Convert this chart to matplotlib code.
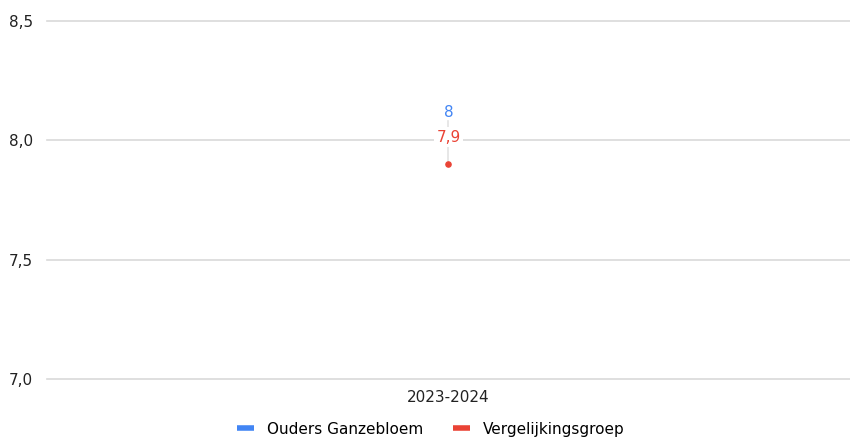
import matplotlib
matplotlib.use("Agg")
import matplotlib.pyplot as plt
from matplotlib.lines import Line2D

categories = ["2023-2024"]
series_names = ["Ouders Ganzebloem", "Vergelijkingsgroep"]
ouders = [8.0]
vergelijking = [7.9]
label_ouders = ["8"]
label_vergelijking = ["7,9"]
yticks = [7.0, 7.5, 8.0, 8.5]
ytick_labels = ["7,0", "7,5", "8,0", "8,5"]

blue = "#4285F4"
red = "#EA4335"
fs = 11

plt.rcParams['font.family'] = ['DejaVu Sans']
fig = plt.figure(figsize=(8.5, 4.37), dpi=100)
ax = fig.add_axes([0.055, 0.1327, 0.945, 0.8193])

x = list(range(len(categories)))
ax.set_xlim(-0.5, len(categories) - 0.5)
ax.set_ylim(7.0, 8.5)
ax.set_yticks(yticks)
ax.set_yticklabels(ytick_labels, fontsize=fs, color="#222222")
ax.set_xticks(x)
ax.set_xticklabels(categories, fontsize=fs, color="#222222")
ax.tick_params(length=0, pad=8)
ax.tick_params(axis='y', pad=10)
for s in ax.spines.values():
    s.set_visible(False)
ax.grid(axis='y', color="#d9d9d9", linewidth=1.2)
for gl in ax.get_ygridlines():
    gl.set_clip_on(False)
ax.set_axisbelow(True)

# faint stem connecting the series
for xi, a, b in zip(x, ouders, vergelijking):
    ax.plot([xi, xi], [min(a, b), max(a, b) + 0.08], color="#e3e3e3", linewidth=1.2, zorder=1)

ax.scatter(x, ouders, color=blue, s=14, zorder=3)
ax.scatter(x, vergelijking, color=red, s=14, zorder=3)

for xi, v, t in zip(x, ouders, label_ouders):
    ax.annotate(t, (xi, v), xytext=(0, 20), textcoords="offset points", ha="center",
                va="center", color=blue, fontsize=fs, zorder=4)
for xi, v, t in zip(x, vergelijking, label_vergelijking):
    ax.annotate(t, (xi, v), xytext=(0, 19.5), textcoords="offset points", ha="center",
                va="center", color=red, fontsize=fs, zorder=5,
                bbox=dict(boxstyle="square,pad=0.15", fc="white", ec="none"))

handles = [Line2D([0], [0], color=blue, linewidth=4, solid_capstyle="butt"),
           Line2D([0], [0], color=red, linewidth=4, solid_capstyle="butt")]
fig.legend(handles, series_names, loc="center", bbox_to_anchor=(0.507, 0.018),
           ncol=2, frameon=False, fontsize=fs, handlelength=1.15,
           handletextpad=0.85, columnspacing=1.9)

fig.savefig("out.png", dpi=100)
